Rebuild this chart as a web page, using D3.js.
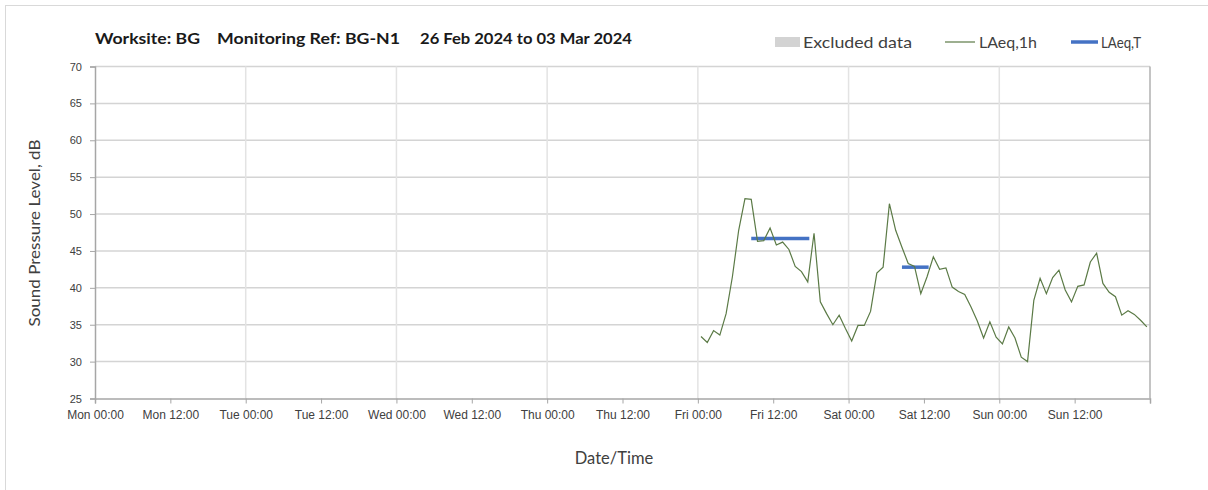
<!DOCTYPE html>
<html>
<head>
<meta charset="utf-8">
<script src="https://cdn.jsdelivr.net/npm/d3@7.9.0/dist/d3.min.js"></script>
<style>
  body { margin: 0; background: #fff; }
  svg { display: block; font-family: Lato, "Open Sans", sans-serif; }
</style>
</head>
<body>
<svg id="chart" width="1208" height="490"></svg>
<script>
// hourly LAeq,1h readings, first one centred on Fri 00:30
const firstReading = "2024-03-01T00:30:00Z";
const laeq1h = [
  33.4, 32.6, 34.2, 33.6, 36.5, 41.5, 47.8, 52.1, 52.0, 46.3,
  46.4, 48.1, 45.8, 46.2, 45.2, 42.9, 42.2, 40.8, 47.4, 38.1,
  36.5, 35.0, 36.3, 34.5, 32.8, 34.9, 34.9, 36.8, 42.0, 42.8,
  51.4, 47.8, 45.5, 43.3, 42.9, 39.2, 41.5, 44.2, 42.5, 42.7,
  40.1, 39.5, 39.1, 37.4, 35.5, 33.2, 35.4, 33.3, 32.4, 34.7,
  33.2, 30.6, 30.0, 38.3, 41.3, 39.2, 41.4, 42.4, 39.7, 38.1,
  40.2, 40.4, 43.5, 44.7, 40.6, 39.4, 38.8, 36.3, 36.9, 36.4,
  35.6, 34.7
];

// LAeq,T periods
const ltStart = ["2024-03-01T08:30:00Z", "2024-03-02T08:30:00Z"];
const ltEnd = ["2024-03-01T17:45:00Z", "2024-03-02T12:45:00Z"];
const ltValues = [46.7, 42.8];

const yTicks = [25, 30, 35, 40, 45, 50, 55, 60, 65, 70];
const titleParts = ["Worksite: BG", "Monitoring Ref: BG-N1", "26 Feb 2024 to 03 Mar 2024"];
const legendLabels = ["Excluded data", "LAeq,1h", "LAeq,T"];

const svg = d3.select("#chart");
const textColor = "#404040";

const x = d3.scaleUtc()
    .domain([new Date("2024-02-26T00:00:00Z"), new Date("2024-03-04T00:00:00Z")])
    .range([95, 1150]);
const y = d3.scaleLinear().domain([25, 70]).range([398.5, 66.5]);

// outer frame
svg.append("rect")
    .attr("x", 5.5).attr("y", 5.5)
    .attr("width", 1220).attr("height", 500)
    .attr("fill", "none").attr("stroke", "#d9d9d9");

// horizontal grid
svg.append("g")
    .selectAll("line")
    .data(yTicks.slice(1))
    .join("line")
    .attr("x1", 95).attr("x2", 1150)
    .attr("y1", d => y(d)).attr("y2", d => y(d))
    .attr("stroke", "#d4d4d4").attr("stroke-width", 1.5);

// vertical day grid
const days = d3.utcDay.range(x.domain()[0], d3.utcDay.offset(x.domain()[1], 1));
svg.append("g")
    .selectAll("line")
    .data(days.slice(1))
    .join("line")
    .attr("x1", d => x(d)).attr("x2", d => x(d))
    .attr("y1", y(70)).attr("y2", y(25))
    .attr("stroke", d => +d === +x.domain()[1] ? "#b0b0b0" : "#e3e3e3")
    .attr("stroke-width", 1.5);

// x axis
const xAxis = d3.axisBottom(x)
    .ticks(d3.utcHour.every(12))
    .tickFormat(d3.utcFormat("%a %H:%M"))
    .tickSize(5);
const gx = svg.append("g")
    .attr("transform", `translate(0,${y(25)})`)
    .call(xAxis);
gx.select(".domain").attr("stroke", "#a6a6a6").attr("stroke-width", 1.5);
gx.selectAll(".tick line").attr("stroke", "#a6a6a6");
gx.selectAll(".tick text")
    .attr("fill", textColor)
    .attr("font-size", 12)
    .attr("dy", "1.05em")
    .text(function(d) { return +d === +x.domain()[1] ? "" : d3.select(this).text(); });

// y axis
const yAxis = d3.axisLeft(y).tickValues(yTicks).tickSize(5).tickPadding(8);
const gy = svg.append("g")
    .attr("transform", "translate(95,0)")
    .call(yAxis);
gy.select(".domain").attr("stroke", "#a6a6a6").attr("stroke-width", 1.5);
gy.selectAll(".tick line").attr("stroke", "#a6a6a6");
gy.selectAll(".tick text").attr("fill", textColor).attr("font-size", 11);

// LAeq,T bars
svg.append("g")
    .selectAll("line")
    .data(ltValues)
    .join("line")
    .attr("x1", (d, i) => x(new Date(ltStart[i])))
    .attr("x2", (d, i) => x(new Date(ltEnd[i])))
    .attr("y1", d => y(d)).attr("y2", d => y(d))
    .attr("stroke", "#4472c4").attr("stroke-width", 3.5);

// LAeq,1h line
const t0 = new Date(firstReading);
const line = d3.line()
    .x((d, i) => x(d3.utcHour.offset(t0, i)))
    .y(d => y(d));
svg.append("path")
    .datum(laeq1h)
    .attr("d", line)
    .attr("fill", "none")
    .attr("stroke", "#5b7a46")
    .attr("stroke-width", 1.2);

// title
const titleX = [95, 217, 420];
const titleW = [105, 183, 212];
svg.append("g")
    .selectAll("text")
    .data(titleParts)
    .join("text")
    .attr("x", (d, i) => titleX[i]).attr("y", 44)
    .attr("font-size", 16).attr("font-weight", "bold")
    .attr("fill", "#1a1a1a")
    .attr("textLength", (d, i) => titleW[i])
    .attr("lengthAdjust", "spacingAndGlyphs")
    .text(d => d);

// legend
svg.append("rect").attr("x", 775).attr("y", 37).attr("width", 25).attr("height", 10).attr("fill", "#d3d3d3");
svg.append("line").attr("x1", 945).attr("x2", 975).attr("y1", 42).attr("y2", 42)
    .attr("stroke", "#5b7a46").attr("stroke-width", 1.2);
svg.append("line").attr("x1", 1071).attr("x2", 1098).attr("y1", 42).attr("y2", 42)
    .attr("stroke", "#4472c4").attr("stroke-width", 3.5);
const legendX = [803, 979, 1101];
const legendW = [109, 58, 40];
svg.append("g")
    .selectAll("text")
    .data(legendLabels)
    .join("text")
    .attr("x", (d, i) => legendX[i]).attr("y", 48)
    .attr("font-size", 16).attr("fill", textColor)
    .attr("textLength", (d, i) => legendW[i])
    .attr("lengthAdjust", "spacingAndGlyphs")
    .text(d => d);

// axis titles
svg.append("text")
    .attr("transform", "translate(40,233) rotate(-90)")
    .attr("text-anchor", "middle")
    .attr("font-size", 16).attr("fill", textColor)
    .attr("textLength", 187)
    .attr("lengthAdjust", "spacingAndGlyphs")
    .text("Sound Pressure Level, dB");
svg.append("text")
    .attr("x", 614).attr("y", 464)
    .attr("text-anchor", "middle")
    .attr("font-size", 16.5).attr("fill", textColor)
    .text("Date/Time");
</script>
</body>
</html>
